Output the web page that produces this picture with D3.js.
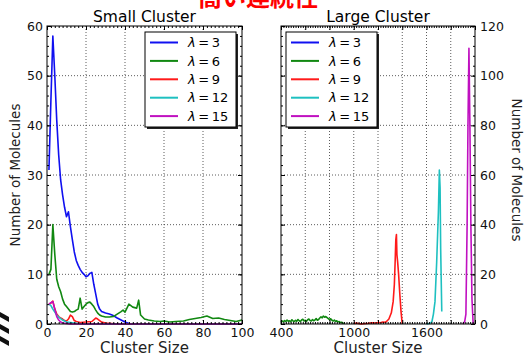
<!DOCTYPE html>
<meta charset="utf-8">
<style>
body { margin: 0; background: #fff; }
svg { font-family: "DejaVu Sans", sans-serif; }
.grid line { stroke: #333; stroke-dasharray: 1,2; stroke-width: 0.8px; }
.axis path { display: none; }
.axis line { stroke: #000; }
.axis text { font-size: 12.5px; fill: #111; font-family: "DejaVu Sans", sans-serif; }
.line { fill: none; stroke-width: 1.6px; stroke-linejoin: round; }
</style>
<svg width="526" height="354"></svg>
<script src="https://d3js.org/d3.v7.min.js"></script>
<script>

var lambdas = ["3", "6", "9", "12", "15"];
var colors = ["#1010f0", "#118811", "#ff1a1a", "#1ec0c0", "#c010c0"];

// small clusters: [cluster size, number of molecules]
var small3 = [[1,31],[2,45],[3,58],[4,50],[5,41],[6,34],[7,29],[8,26],[9,23.5],[10,21.6],[11,22.6],[12,19.6],[13,17],[14,14.5],[15,12.8],[16,11.8],[17,11],[18,10.4],[19,10],[20,9.5],[21,9.7],[22,10.2],[23,10.4],[24,8],[25,6],[26,4],[27,3],[28,2.5],[30,2.2],[32,2],[34,1.7],[36,1.2],[38,0.8],[40,0.4],[42,0.1],[44,0],[100,0]];
var small6 = [[1,10],[2,11],[3,20],[4,14],[5,9],[6,7.5],[7,6.5],[8,5],[9,4],[10,3.5],[11,3],[12,2.5],[13,2.4],[14,2.5],[15,2.8],[16,3],[17,5.2],[18,3],[19,3.5],[20,4],[21,4.3],[22,4.4],[23,4],[24,3.5],[25,2.8],[26,2.2],[27,1.8],[28,1.6],[30,1.4],[32,1.4],[34,1.5],[36,2],[38,2.5],[39,2.8],[40,2.4],[42,4],[44,3.4],[46,3.2],[47,4.8],[48,1.8],[50,1],[52,0.8],[55,0.6],[58,0.5],[60,0.6],[63,0.4],[66,0.5],[70,0.6],[73,0.9],[76,1.1],[79,1.3],[82,1.6],[85,1.1],[88,1.2],[91,0.9],[94,0.7],[97,0.5],[100,0.8]];
var small9 = [[1,4],[2,4.2],[3,4.6],[4,3],[5,2],[6,1.5],[7,1.2],[8,1],[9,0.7],[10,0.6],[11,1],[12,1.8],[13,1.5],[14,0.7],[15,0.5],[17,0.3],[20,0.4],[23,0.5],[25,1.2],[26,1],[28,0.4],[30,0.2],[33,0.1],[36,0],[100,0]];
var small12 = [[1,4],[2,3.7],[3,3],[4,2.4],[5,1.8],[6,1.4],[7,1.1],[8,0.8],[9,0.6],[10,0.4],[12,0.3],[14,0.2],[16,0.1],[20,0],[100,0]];
var small15 = [[1,4],[2,4.3],[3,4.5],[4,3],[5,1.5],[6,0.8],[7,0.4],[8,0.2],[10,0.1],[12,0],[100,0]];

// large clusters
var large3 = [];
var large6 = [[400,0.8],[410,1.2],[420,0.9],[430,1.4],[440,1.0],[450,1.6],[460,1.1],[470,1.3],[480,0.9],[490,1.7],[500,1.2],[510,1.0],[520,1.5],[530,1.1],[540,1.8],[550,1.3],[560,1.0],[570,1.6],[580,1.9],[590,1.2],[600,1.5],[610,1.1],[620,1.7],[630,2.0],[640,1.4],[650,1.2],[660,1.8],[670,1.3],[680,1.6],[690,2.2],[700,1.5],[710,1.8],[720,2.4],[730,2.9],[740,2.5],[750,3.2],[760,2.7],[770,3.0],[780,2.6],[790,2.2],[800,1.8],[810,2.1],[820,1.5],[830,1.2],[840,1.6],[850,1.0],[860,1.3],[870,0.8],[880,1.0],[890,0.6],[900,0.7],[910,0.4],[920,0.3]];
var large9 = [[1000,0.2],[1020,0.4],[1040,0.2],[1060,0],[1120,0.3],[1150,0.5],[1180,0.4],[1200,0.6],[1220,0.5],[1240,0.8],[1260,0.7],[1270,1],[1290,2],[1310,4.5],[1325,9],[1335,16],[1342,26],[1347,34],[1352,36],[1356,28],[1362,25],[1370,20],[1380,12],[1390,5],[1400,0]];
var large12 = [[1600,0],[1620,0.2],[1635,0.5],[1645,1],[1657,4],[1670,9],[1684,25],[1698,45],[1706,62],[1712,55],[1717,30],[1726,5]];
var large15 = [[1900,0],[1915,1],[1925,4],[1935,40],[1942,80],[1950,111],[1958,80],[1966,40],[1975,10],[1985,0]];

var smallSeries = [small3, small6, small9, small12, small15];
var largeSeries = [large3, large6, large9, large12, large15];

var svg = d3.select("svg");

function panel(opt) {
  var x = d3.scaleLinear().domain(opt.xDomain).range([opt.left, opt.right]);
  var y = d3.scaleLinear().domain(opt.yDomain).range([324, 26]);
  var g = svg.append("g");

  // grid
  var grid = g.append("g").attr("class", "grid");
  grid.selectAll(".gx").data(opt.xTicks.slice(1, -1)).enter().append("line")
      .attr("x1", function(d) { return x(d); }).attr("x2", function(d) { return x(d); })
      .attr("y1", y.range()[0]).attr("y2", y.range()[1]);
  grid.selectAll(".gy").data(opt.yTicks.slice(1, -1)).enter().append("line")
      .attr("y1", function(d) { return y(d); }).attr("y2", function(d) { return y(d); })
      .attr("x1", opt.left).attr("x2", opt.right);

  // lines
  var line = d3.line().x(function(d) { return x(d[0]); }).y(function(d) { return y(d[1]); });
  opt.series.forEach(function(s, i) {
    if (!s.length) return;
    g.append("path").datum(s).attr("class", "line")
        .attr("stroke", colors[i]).attr("d", line);
  });

  // minor ticks
  var xStep = opt.xTicks[1] - opt.xTicks[0], yStep = opt.yTicks[1] - opt.yTicks[0];
  var xMinor = d3.range(opt.xDomain[0], opt.xDomain[1] + 1e-9, xStep / 10);
  var yMinor = d3.range(opt.yDomain[0], opt.yDomain[1] + 1e-9, yStep / 5);
  g.append("g").attr("class", "axis").attr("transform", "translate(0,324)")
      .call(d3.axisBottom(x).tickValues(xMinor).tickSize(-2).tickFormat(""));
  g.append("g").attr("class", "axis").attr("transform", "translate(0,26)")
      .call(d3.axisTop(x).tickValues(xMinor).tickSize(-2).tickFormat(""));
  g.append("g").attr("class", "axis").attr("transform", "translate(" + opt.left + ",0)")
      .call(d3.axisLeft(y).tickValues(yMinor).tickSize(-2).tickFormat(""));
  g.append("g").attr("class", "axis").attr("transform", "translate(" + opt.right + ",0)")
      .call(d3.axisRight(y).tickValues(yMinor).tickSize(-2).tickFormat(""));

  // major ticks
  g.append("g").attr("class", "axis").attr("transform", "translate(0,324)")
      .call(d3.axisBottom(x).tickValues(opt.xTicks).tickSize(-4).tickPadding(4).tickFormat(opt.xFormat));
  g.append("g").attr("class", "axis").attr("transform", "translate(0,26)")
      .call(d3.axisTop(x).tickValues(opt.xTicks).tickSize(-4).tickFormat(""));
  g.append("g").attr("class", "axis").attr("transform", "translate(" + opt.left + ",0)")
      .call(d3.axisLeft(y).tickValues(opt.yTicks).tickSize(-4).tickPadding(opt.yRight ? 0 : 4)
        .tickFormat(opt.yRight ? "" : d3.format("d")));
  g.append("g").attr("class", "axis").attr("transform", "translate(" + opt.right + ",0)")
      .call(d3.axisRight(y).tickValues(opt.yTicks).tickSize(-4).tickPadding(5)
        .tickFormat(opt.yRight ? d3.format("d") : ""));

  // frame
  g.append("rect").attr("x", opt.left).attr("y", 26)
      .attr("width", opt.right - opt.left).attr("height", 298)
      .attr("fill", "none").attr("stroke", "#000").attr("stroke-width", 1);

  // title and x label
  g.append("text").attr("x", (opt.left + opt.right) / 2).attr("y", 22)
      .attr("text-anchor", "middle").style("font-size", "15.5px").text(opt.title);
  g.append("text").attr("x", (opt.left + opt.right) / 2).attr("y", 353)
      .attr("text-anchor", "middle").style("font-size", "15px").attr("fill", "#222").text("Cluster Size");

  // legend
  var lx = opt.legendX, ly = 32;
  var lg = g.append("g").attr("transform", "translate(" + lx + "," + ly + ")");
  lg.append("rect").attr("x", 2).attr("y", 2).attr("width", 91).attr("height", 95).attr("fill", "#222");
  lg.append("rect").attr("x", 0).attr("y", 0).attr("width", 91).attr("height", 95)
      .attr("fill", "#fff").attr("stroke", "#000");
  var item = lg.selectAll(".item").data(lambdas).enter().append("g")
      .attr("transform", function(d, i) { return "translate(0," + (10.5 + i * 18.4) + ")"; });
  item.append("line").attr("x1", 5).attr("x2", 33).attr("y1", 0).attr("y2", 0)
      .attr("stroke", function(d, i) { return colors[i]; }).attr("stroke-width", 2);
  var t = item.append("text").attr("x", 43).attr("dy", "0.36em").style("font-size", "13px");
  t.append("tspan").style("font-style", "italic").text("λ");
  t.append("tspan").text(function(d) { return "\u2009=\u2009" + d; });
}

panel({
  left: 47, right: 242, xDomain: [0, 100], yDomain: [0, 60],
  xTicks: [0, 20, 40, 60, 80, 100], yTicks: [0, 10, 20, 30, 40, 50, 60],
  xFormat: d3.format("d"), series: smallSeries, title: "Small Cluster", legendX: 145, yRight: false
});

var largeLabels = [400, 1000, 1600];
panel({
  left: 281, right: 475, xDomain: [400, 2000], yDomain: [0, 120],
  xTicks: d3.range(400, 2001, 200), yTicks: [0, 20, 40, 60, 80, 100, 120],
  xFormat: function(d) { return largeLabels.indexOf(d) >= 0 ? d : ""; },
  series: largeSeries, title: "Large Cluster", legendX: 286, yRight: true
});

// y labels
svg.append("text").attr("transform", "translate(20,175) rotate(-90)")
    .attr("text-anchor", "middle").style("font-size", "13.5px").attr("fill", "#222")
    .text("Number of Molecules");
svg.append("text").attr("transform", "translate(512,170) rotate(90)")
    .attr("text-anchor", "middle").style("font-size", "13.5px").attr("fill", "#222")
    .text("Number of Molecules");

// slide heading, cut off at the top
svg.append("text").attr("x", 258).attr("y", 6)
    .attr("text-anchor", "middle")
    .style("font-family", "'Noto Sans CJK JP', sans-serif").style("font-weight", "bold")
    .style("font-size", "24px").attr("fill", "#ff0000").text("高い連続性");

// logo fragment at bottom left
var logo = svg.append("g").attr("fill", "#111");
[312, 324, 336].forEach(function(yy) {
  logo.append("path").attr("d", "M0," + yy + " L9," + (yy + 5) + " L9," + (yy + 10) + " L0," + (yy + 5) + "Z");
});

</script>
